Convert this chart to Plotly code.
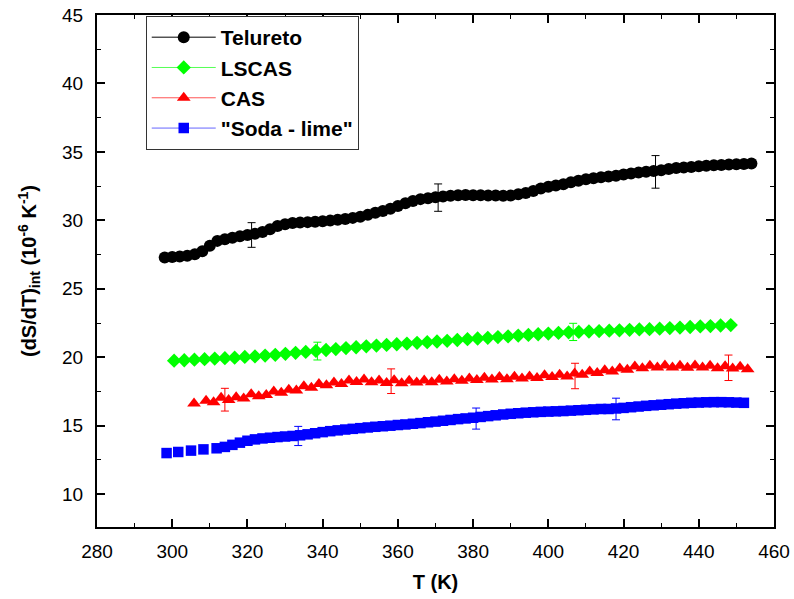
import plotly.graph_objects as go

# ---------------- data ----------------
tel_T = [298, 300, 302, 304, 306, 308, 310, 312, 314, 316, 318, 320, 322, 324, 326, 328, 330,
         332, 334, 336, 338, 340, 342, 344, 346, 348, 350, 352, 354, 356, 358, 360, 362, 364,
         366, 368, 370, 372, 374, 376, 378, 380, 382, 384, 386, 388, 390, 392, 394, 396, 398,
         400, 402, 404, 406, 408, 410, 412, 414, 416, 418, 420, 422, 424, 426, 428, 430, 432,
         434, 436, 438, 440, 442, 444, 446, 448, 450, 452, 454]
tel_v = [27.28, 27.32, 27.36, 27.42, 27.52, 27.75, 28.15, 28.5, 28.62, 28.73, 28.83, 28.93, 29.02,
         29.15, 29.35, 29.58, 29.72, 29.8, 29.84, 29.87, 29.9, 29.93, 29.98, 30.04, 30.1, 30.18,
         30.27, 30.4, 30.55, 30.68, 30.85, 31.05, 31.25, 31.42, 31.55, 31.62, 31.68, 31.74, 31.8,
         31.84, 31.85, 31.84, 31.83, 31.82, 31.81, 31.8, 31.82, 31.9, 32.0, 32.15, 32.32, 32.45,
         32.55, 32.64, 32.78, 32.9, 33.0, 33.08, 33.15, 33.2, 33.26, 33.35, 33.43, 33.5, 33.55,
         33.6, 33.66, 33.75, 33.82, 33.86, 33.9, 33.95, 33.98, 34.02, 34.05, 34.08, 34.1, 34.12,
         34.15]

lsc_T = [300.5, 303.2, 305.9, 308.6, 311.3, 314.0, 316.6, 319.3, 322.0, 324.7, 327.4, 330.1,
         332.8, 335.5, 338.2, 340.9, 343.5, 346.2, 348.9, 351.6, 354.3, 357.0, 359.7, 362.4,
         365.1, 367.8, 370.4, 373.1, 375.8, 378.5, 381.2, 383.9, 386.6, 389.3, 392.0, 394.7,
         397.3, 400.0, 402.7, 405.4, 408.1, 410.8, 413.5, 416.2, 418.9, 421.6, 424.2, 426.9,
         429.6, 432.3, 435.0, 437.7, 440.4, 443.1, 445.8, 448.5]
lsc_v = [19.75, 19.78, 19.82, 19.86, 19.9, 19.93, 19.97, 20.02, 20.06, 20.12, 20.18, 20.25, 20.32,
         20.39, 20.46, 20.53, 20.6, 20.67, 20.73, 20.8, 20.85, 20.9, 20.95, 21.0, 21.05, 21.1,
         21.15, 21.2, 21.26, 21.32, 21.37, 21.42, 21.47, 21.52, 21.58, 21.63, 21.68, 21.73,
         21.78, 21.82, 21.85, 21.88, 21.91, 21.94, 21.97, 22.0, 22.03, 22.05, 22.09, 22.13,
         22.17, 22.21, 22.25, 22.28, 22.32, 22.35]

cas_T = [305.8, 309, 311, 313, 315, 317, 319, 321, 323, 325, 327, 329, 331, 333, 335, 337, 339,
         341, 343, 345, 347, 349, 351, 353, 355, 357, 359, 361, 363, 365, 367, 369, 371, 373,
         375, 377, 379, 381, 383, 385, 387, 389, 391, 393, 395, 397, 399, 401, 403, 405, 407,
         409, 411, 413, 415, 417, 419, 421, 423, 425, 427, 429, 431, 433, 435, 437, 439, 441,
         443, 445, 447, 449, 451, 453]
cas_v = [16.62, 16.82, 16.72, 17.05, 16.88, 17.08, 16.98, 17.3, 17.15, 17.25, 17.5, 17.4, 17.62,
         17.58, 17.88, 17.78, 18.05, 17.95, 18.15, 18.05, 18.3, 18.2, 18.38, 18.18, 18.3, 18.12,
         18.32, 18.1, 18.28, 18.15, 18.3, 18.17, 18.35, 18.22, 18.4, 18.28, 18.45, 18.33, 18.5,
         18.38, 18.55, 18.4, 18.58, 18.45, 18.6, 18.48, 18.68, 18.55, 18.72, 18.6, 18.82, 18.72,
         18.95, 18.85, 19.05, 18.95, 19.18, 19.08, 19.32, 19.2, 19.38, 19.25, 19.4, 19.25,
         19.38, 19.24, 19.4, 19.25, 19.38, 19.2, 19.35, 19.18, 19.3, 19.12]

sod_T = [298.5, 301.6, 305.0, 308.3, 311.8, 314, 316, 318, 320, 322, 324, 326, 328, 330, 332,
         334, 336, 338, 340, 342, 344, 346, 348, 350, 352, 354, 356, 358, 360, 362, 364, 366,
         368, 370, 372, 374, 376, 378, 380, 382, 384, 386, 388, 390, 392, 394, 396, 398, 400,
         402, 404, 406, 408, 410, 412, 414, 416, 418, 420, 422, 424, 426, 428, 430, 432, 434,
         436, 438, 440, 442, 444, 446, 448, 450, 452]
sod_v = [13.0, 13.08, 13.18, 13.27, 13.35, 13.45, 13.6, 13.76, 13.9, 14.0, 14.07, 14.12, 14.17,
         14.21, 14.25, 14.3, 14.37, 14.45, 14.53, 14.6, 14.66, 14.72, 14.77, 14.82, 14.87,
         14.92, 14.96, 15.0, 15.05, 15.09, 15.14, 15.19, 15.25, 15.3, 15.36, 15.42, 15.48,
         15.53, 15.58, 15.64, 15.7, 15.76, 15.82, 15.87, 15.91, 15.95, 15.98, 16.01, 16.03,
         16.05, 16.07, 16.1, 16.13, 16.16, 16.19, 16.22, 16.22, 16.26, 16.3, 16.35, 16.4,
         16.45, 16.49, 16.53, 16.57, 16.61, 16.64, 16.67, 16.69, 16.71, 16.72, 16.72, 16.71,
         16.69, 16.67]

# error bars (T, value, +/- error)
tel_err_T = [321.1, 370.7, 428.5]
tel_err_v = [28.93, 31.66, 33.54]
tel_err_e = [0.9, 1.0, 1.19]

lsc_err_T = [338.6, 406.6]
lsc_err_v = [20.45, 21.85]
lsc_err_e = [0.65, 0.63]

cas_err_T = [314.0, 358.2, 407.1, 447.9]
cas_err_v = [16.9, 18.25, 18.63, 19.23]
cas_err_e = [0.83, 0.9, 0.93, 0.93]

sod_err_T = [333.5, 380.8, 418.0]
sod_err_v = [14.25, 15.52, 16.22]
sod_err_e = [0.7, 0.77, 0.79]

names = ["Telureto", "LSCAS", "CAS", "\"Soda - lime\""]
colors = ["#000000", "#00ff00", "#ff0000", "#0000ff"]
line_colors = ["#000000", "#55ff55", "#ff5555", "#6666ff"]
symbols = ["circle", "diamond", "triangle-up", "square"]
sizes = [12, 11, 12, 10.5]

FONT = "Arial, Liberation Sans, sans-serif"

fig = go.Figure()
series = [(tel_T, tel_v), (lsc_T, lsc_v), (cas_T, cas_v), (sod_T, sod_v)]
errs = [(tel_err_T, tel_err_v, tel_err_e), (lsc_err_T, lsc_err_v, lsc_err_e),
        (cas_err_T, cas_err_v, cas_err_e), (sod_err_T, sod_err_v, sod_err_e)]

# data markers
for (x, y), n, c, s, sz in zip(series, names, colors, symbols, sizes):
    fig.add_trace(go.Scatter(
        x=x, y=y, name=n, mode="markers", showlegend=False,
        marker=dict(symbol=s, size=sz, color=c, line=dict(width=0)),
    ))

# error bars
for (x, y, e), c in zip(errs, colors):
    fig.add_trace(go.Scatter(
        x=x, y=y, mode="markers", showlegend=False, hoverinfo="skip",
        marker=dict(size=1, color=c, opacity=0),
        error_y=dict(type="data", array=e, visible=True, color=c, thickness=1, width=4),
    ))

# legend entries (line + marker sample)
for n, c, lc, s, sz in zip(names, colors, line_colors, symbols, sizes):
    fig.add_trace(go.Scatter(
        x=[None], y=[None], name="<b>" + n + "</b>", mode="lines+markers",
        line=dict(color=lc, width=1),
        marker=dict(symbol=s, size=sz, color=c, line=dict(width=0)),
    ))

axis_common = dict(
    showline=True, linecolor="black", linewidth=2, mirror="ticks",
    ticks="inside", ticklen=8, tickwidth=1.5, tickcolor="black",
    showgrid=False, zeroline=False, automargin=False,
    ticklabeloverflow="allow",
    tickfont=dict(family=FONT, size=19, color="black"),
)

fig.update_xaxes(
    range=[280, 460], dtick=20, tick0=280,
    minor=dict(dtick=10, ticks="inside", ticklen=4, tickcolor="black", tickwidth=1),
    ticklabelstandoff=6,
    title=dict(text="<b>T (K)</b>", font=dict(family=FONT, size=20, color="black"), standoff=14),
    **axis_common,
)
fig.update_yaxes(
    range=[7.6, 45], dtick=5, tick0=10,
    minor=dict(dtick=2.5, ticks="inside", ticklen=4, tickcolor="black", tickwidth=1),
    ticklabelstandoff=8,
    title=dict(text="<b>(dS/dT)<sub>int</sub> (10<sup>-6</sup> K<sup>-1</sup>)</b>",
               font=dict(family=FONT, size=20, color="black"), standoff=20),
    **axis_common,
)

fig.update_layout(
    width=794, height=599,
    margin=dict(l=97, r=20, t=15, b=72),
    paper_bgcolor="white", plot_bgcolor="white",
    font=dict(family=FONT, color="black"),
    legend=dict(
        x=0.072, y=0.998, xanchor="left", yanchor="top",
        bgcolor="white", bordercolor="#333333", borderwidth=1,
        font=dict(family=FONT, size=21, color="black"),
        itemwidth=64, tracegroupgap=0,
    ),
    showlegend=True,
)

# remove the default 8 px body margin so the figure fills the window exactly
fig.write_html("out.html", config={"displayModeBar": False},
               post_script="document.body.style.margin='0';")
